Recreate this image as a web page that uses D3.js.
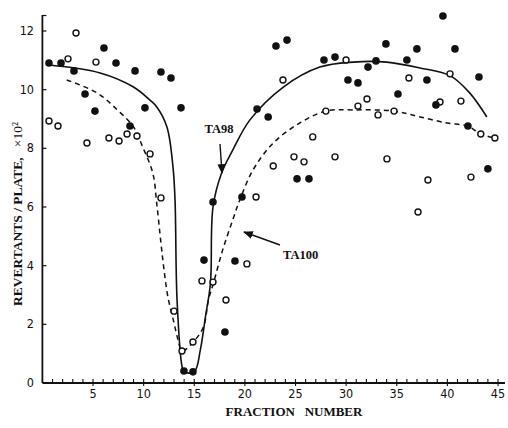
<!DOCTYPE html>
<html lang="en">
<head>
<meta charset="UTF-8">
<title>Revertants per plate</title>
<script src="https://d3js.org/d3.v7.min.js"></script>
<style>
  body { margin: 0; background: #fff; }
  text { fill: #111; }
</style>
</head>
<body>
<div id="chart"></div>
<script>
// TA98 (filled circles): [fraction, revertants x10^2]
const ta98Points = [
  [0.65,10.91],[1.84,10.91],[3.12,10.64],[6.08,11.42],[7.27,10.91],[9.15,10.64],
  [11.71,10.60],[12.70,10.40],[4.21,9.85],[5.19,9.27],[10.13,9.38],[8.65,8.76],
  [13.69,9.38],[23.07,11.49],[24.16,11.69],[27.81,11.01],[21.2,9.34],[22.3,9.07],
  [25.15,6.96],[26.33,6.96],[19.71,6.34],[16.85,6.17],[15.96,4.19],[19.02,4.16],
  [18.03,1.74],[13.98,0.41],[14.87,0.38],[39.56,12.51],[33.93,11.56],[36.99,11.39],
  [40.75,11.39],[28.9,11.11],[32.95,10.98],[32.16,10.77],[36.0,11.01],[30.18,10.33],
  [31.17,10.23],[37.98,10.33],[43.12,10.43],[35.12,9.85],[38.87,9.48],[42.03,8.76],
  [44.0,7.30]
];
// TA100 (open circles)
const ta100Points = [
  [0.65,8.93],[1.54,8.76],[2.53,11.05],[3.32,11.93],[5.29,10.94],[4.40,8.18],
  [6.57,8.35],[7.57,8.25],[8.36,8.49],[9.34,8.42],[10.63,7.81],[11.71,6.31],
  [13.0,2.45],[13.79,1.09],[14.87,1.40],[15.76,3.48],[16.85,3.44],[18.13,2.83],
  [20.2,4.06],[21.1,6.34],[22.8,7.40],[24.85,7.71],[25.84,7.54],[26.7,8.39],
  [28.0,9.27],[23.76,10.33],[29.99,11.01],[36.2,10.40],[40.26,10.54],[32.06,9.68],
  [31.17,9.44],[33.15,9.14],[34.73,9.27],[39.27,9.58],[41.34,9.61],[43.3,8.49],
  [44.69,8.35],[28.9,7.71],[34.03,7.64],[38.08,6.92],[42.33,7.02],[37.1,5.83]
];
// hand-drawn trend curves
const ta98Curve = [
  [0.65,10.84],[5.7,10.57],[9.0,10.09],[10.6,9.65],[11.3,9.41],[12.3,8.73],
  [12.9,7.36],[13.1,6.24],[13.3,2.83],[13.8,0.55],[14.0,0.38],[15.0,0.38],
  [15.6,1.13],[16.1,2.25],[16.6,3.41],[16.85,6.0],[17.7,7.16],[18.8,7.94],
  [20.5,8.97],[23.8,10.09],[27.4,10.77],[30.7,10.94],[34.0,10.94],[37.3,10.74],
  [40.3,10.47],[42.2,9.89],[43.9,9.07]
];
const ta100Curve = [
  [2.4,10.33],[5.4,9.89],[7.4,9.31],[9.0,8.73],[9.9,8.05],[10.9,7.16],
  [11.3,6.1],[11.7,4.8],[12.0,3.9],[12.4,2.93],[13.0,2.05],[13.4,1.47],
  [13.8,1.09],[14.9,1.40],[15.9,1.91],[16.4,2.83],[16.9,3.41],[17.8,4.53],
  [18.8,5.56],[19.5,6.24],[20.8,7.26],[22.8,8.18],[25.4,8.86],[28.0,9.27],
  [30.7,9.31],[34.7,9.27],[37.3,9.07],[40.0,8.86],[42.0,8.76],[43.3,8.49],[44.7,8.35]
];
const xTicks = [5, 10, 15, 20, 25, 30, 35, 40, 45];
const yTicks = [0, 2, 4, 6, 8, 10, 12];

const W = 508, H = 428;
const svg = d3.select("#chart").append("svg")
  .attr("width", W).attr("height", H)
  .style("font-family", "'Liberation Serif', serif");

const x = d3.scaleLinear().domain([0, 45]).range([42.4, 498]);
const y = d3.scaleLinear().domain([0, 12]).range([383, 31]);

// axes
svg.append("line").attr("x1", x(0)).attr("x2", 505).attr("y1", y(0)).attr("y2", y(0))
  .attr("stroke", "#111").attr("stroke-width", 1.8);
svg.append("line").attr("x1", x(0)).attr("x2", x(0)).attr("y1", y(0)).attr("y2", 15)
  .attr("stroke", "#111").attr("stroke-width", 1.8);
svg.append("line").attr("x1", x(0)).attr("x2", x(0) + 4).attr("y1", 15.5).attr("y2", 15.5)
  .attr("stroke", "#111").attr("stroke-width", 1.2);

svg.selectAll("line.minor").data(d3.range(1, 46)).enter().append("line")
  .attr("class", "minor")
  .attr("x1", d => x(d)).attr("x2", d => x(d))
  .attr("y1", d => y(0) - 4)
  .attr("y2", d => d % 5 === 0 ? y(0) + 3 : y(0))
  .attr("stroke", "#111").attr("stroke-width", 1.1);

svg.selectAll("text.xt").data(xTicks).enter().append("text")
  .attr("class", "xt")
  .attr("x", d => x(d)).attr("y", 398)
  .attr("text-anchor", "middle")
  .style("font-family", "'Liberation Sans Narrow', 'DejaVu Sans Condensed', sans-serif")
  .style("font-size", "12.5px")
  .text(d => d);

svg.selectAll("line.yt").data(yTicks.filter(d => d > 0)).enter().append("line")
  .attr("class", "yt")
  .attr("x1", x(0)).attr("x2", x(0) + 4)
  .attr("y1", d => y(d)).attr("y2", d => y(d))
  .attr("stroke", "#111").attr("stroke-width", 1.2);

svg.selectAll("text.ytl").data(yTicks).enter().append("text")
  .attr("class", "ytl")
  .attr("x", 34).attr("y", d => y(d) + 4)
  .attr("text-anchor", "end")
  .style("font-family", "'Liberation Sans Narrow', 'DejaVu Sans Condensed', sans-serif")
  .style("font-size", "12.5px")
  .text(d => d);

// axis titles
svg.append("text")
  .attr("x", 294).attr("y", 416)
  .attr("text-anchor", "middle")
  .attr("xml:space", "preserve")
  .style("white-space", "pre")
  .style("font-weight", "bold").style("font-size", "13px")
  .text("FRACTION   NUMBER");

const ylab = svg.append("text")
  .attr("transform", "translate(22,214) rotate(-90)")
  .attr("text-anchor", "middle")
  .attr("xml:space", "preserve")
  .style("white-space", "pre")
  .style("font-size", "13.5px");
ylab.append("tspan").style("font-weight", "bold").text("REVERTANTS / PLATE,   ");
ylab.append("tspan").text("\u00d710\u00b2");

// curves
const line = d3.line().x(d => x(d[0])).y(d => y(d[1])).curve(d3.curveCatmullRom.alpha(0.5));
svg.append("path").datum(ta98Curve).attr("d", line)
  .attr("fill", "none").attr("stroke", "#111").attr("stroke-width", 1.6);
svg.append("path").datum(ta100Curve).attr("d", line)
  .attr("fill", "none").attr("stroke", "#111").attr("stroke-width", 1.5)
  .attr("stroke-dasharray", "5,4");

// points
svg.selectAll("circle.ta100").data(ta100Points).enter().append("circle")
  .attr("class", "ta100")
  .attr("cx", d => x(d[0])).attr("cy", d => y(d[1])).attr("r", 3)
  .attr("fill", "#fff").attr("stroke", "#111").attr("stroke-width", 1.4);
svg.selectAll("circle.ta98").data(ta98Points).enter().append("circle")
  .attr("class", "ta98")
  .attr("cx", d => x(d[0])).attr("cy", d => y(d[1])).attr("r", 3.8)
  .attr("fill", "#111");

// annotations
const defs = svg.append("defs");
defs.append("marker").attr("id", "ah")
  .attr("viewBox", "0 0 10 10").attr("refX", 9).attr("refY", 5)
  .attr("markerWidth", 7).attr("markerHeight", 7).attr("orient", "auto")
  .append("path").attr("d", "M0,1 L10,5 L0,9 Z").attr("fill", "#111");

svg.append("text").attr("x", 219).attr("y", 133).attr("text-anchor", "middle")
  .style("font-weight", "bold").style("font-size", "12.5px").text("TA98");
svg.append("line").attr("x1", 220).attr("y1", 144).attr("x2", 222).attr("y2", 173)
  .attr("stroke", "#111").attr("stroke-width", 1.4).attr("marker-end", "url(#ah)");

svg.append("text").attr("x", 283).attr("y", 259)
  .style("font-weight", "bold").style("font-size", "12.5px").text("TA100");
svg.append("line").attr("x1", 280).attr("y1", 245).attr("x2", 244).attr("y2", 232)
  .attr("stroke", "#111").attr("stroke-width", 1.4).attr("marker-end", "url(#ah)");
</script>
</body>
</html>
